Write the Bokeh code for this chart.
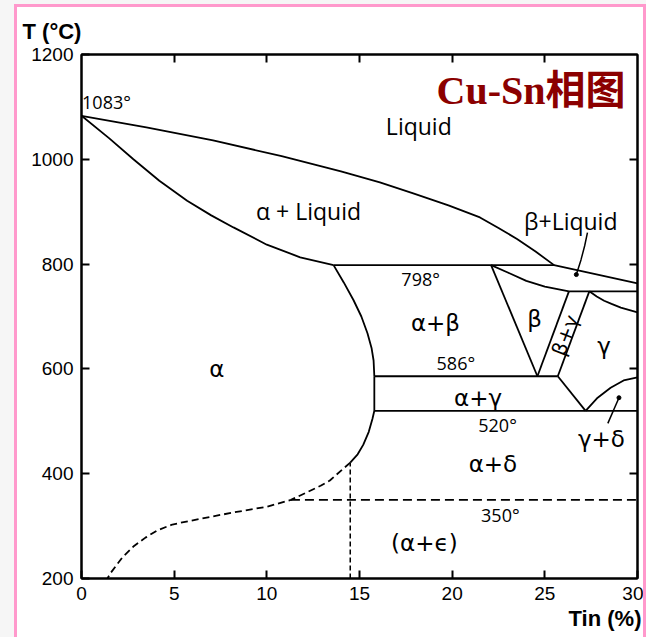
from bokeh.plotting import figure
from bokeh.layouts import column
from bokeh.models import Range1d, LinearAxis, FixedTicker, Label, Title, ColumnDataSource
from bokeh.core.properties import value
from bokeh.embed import file_html
from bokeh.resources import INLINE

# ---- Cu-Sn phase diagram, composition in wt.% Sn, temperature in °C ----
x_ticks = [0, 5, 10, 15, 20, 25, 30]
y_ticks = [200, 400, 600, 800, 1000, 1200]

# invariant temperatures
T_CU = 1083
T_798 = 798
T_755 = 748
T_586 = 586
T_520 = 520
T_350 = 350

# liquidus (continues below 798° towards the Sn side)
liquidus_sn = [0, 3.5, 7.1, 10.8, 14.0, 16.1, 17.9, 19.8, 21.5, 22.5, 23.5, 24.5, 25.5, 27.6, 30]
liquidus_t = [T_CU, 1061, 1036, 1006, 977, 956, 935, 912, 889, 869, 848, 824, T_798, 782, 763]

# alpha solidus
solidus_sn = [0, 1.5, 2.8, 4.2, 5.7, 7.0, 8.2, 10.0, 11.8, 13.6]
solidus_t = [T_CU, 1040, 1000, 959, 921, 893, 870, 837, 813, T_798]

# alpha solvus above the 586° eutectoid
solvus_hi_sn = [13.6, 14.15, 14.68, 15.1, 15.43, 15.65, 15.76, 15.8]
solvus_hi_t = [T_798, 765, 731, 700, 668, 640, 616, T_586]

# alpha solvus below 520°, solid part
solvus_lo_sn = [15.8, 15.7, 15.5, 15.2, 14.9, 14.5]
solvus_lo_t = [T_520, 505, 480, 455, 437, 421]

# alpha solvus, uncertain low-temperature part (dashed)
solvus_dash_sn = [14.5, 13.4, 12.9, 11.3, 10.0, 8.2, 6.4, 4.9, 4.1, 3.45, 2.8, 2.2, 1.56, 1.4]
solvus_dash_t = [421, 387, 377, T_350, 337, 326, 314, 303, 292, 278, 261, 240, 210, 200]

# beta field
beta_left_sn = [22.1, 24.6]
beta_left_t = [T_798, T_586]
beta_solidus_sn = [22.1, 23.0, 24.0, 25.0, 26.3]
beta_solidus_t = [T_798, 784, 768, 757, T_755]
beta_gamma_left_sn = [24.6, 26.3]
beta_gamma_left_t = [T_586, T_755]
beta_gamma_right_sn = [25.7, 27.4]
beta_gamma_right_t = [T_586, T_755]

# gamma field
gamma_lo_sn = [25.7, 27.2]
gamma_lo_t = [T_586, T_520]
gamma_delta_sn = [27.2, 27.85, 28.55, 29.25, 30]
gamma_delta_t = [T_520, 545, 564, 578, 584]
gamma_top_sn = [27.4, 27.8, 28.2, 28.6, 29.1, 30]
gamma_top_t = [T_755, 738, 730, 724, 717, 708]

# horizontal invariant lines (start, end composition)
h798 = [13.6, 25.5]
h755 = [26.3, 30]
h586 = [15.8, 25.7]
h520 = [15.8, 30]
h350 = [11.3, 30]
v_eps_sn = 14.5

# leader lines for small fields
lead_bl_sn = [27.3, 27.15, 26.95, 26.7]
lead_bl_t = [860, 835, 808, 780]
lead_gd_sn = [29.0, 28.4]
lead_gd_t = [545, 496]

# field names
word_text = ["Liquid", "α + Liquid", "β+Liquid"]
word_sn = [18.2, 12.25, 26.4]
word_t = [1064, 902, 883]

greek_text = ["α", "α+β", "β", "γ", "α+γ", "γ+δ", "α+δ", "(α+ϵ)"]
greek_sn = [7.3, 19.1, 24.45, 28.2, 21.4, 28.05, 22.2, 18.5]
greek_t = [599, 687, 696, 643, 545, 467, 419, 267]

temp_text = ["1083°", "798°", "586°", "520°", "350°"]
temp_sn = [1.35, 18.3, 20.2, 22.45, 22.6]
temp_t = [1110, 771, 612, 492, 322]

INK = "black"
PINK = "#ff99cc"
PAPER = "#f6f6f6"

p = figure(width=626, height=630, output_backend="svg", toolbar_location=None,
           x_range=Range1d(0, 30), y_range=Range1d(200, 1200),
           min_border_left=64, min_border_right=6, min_border_top=47, min_border_bottom=59,
           background_fill_color="white", border_fill_color="white")
p.grid.visible = False
p.outline_line_color = INK
p.outline_line_width = 2


def style_axis(ax, labelled):
    ax.axis_line_width = 2
    ax.axis_line_color = INK
    ax.major_tick_in = 8
    ax.major_tick_out = 0
    ax.major_tick_line_width = 2
    ax.major_tick_line_color = INK
    ax.minor_tick_line_color = None
    if labelled:
        ax.major_label_text_font = "Liberation Sans"
        ax.major_label_text_font_size = "19px"
        ax.major_label_text_color = INK
        ax.major_label_standoff = 8
    else:
        ax.major_label_text_font_size = "0px"
        ax.major_label_standoff = 0


p.xaxis.ticker = FixedTicker(ticks=x_ticks)
p.yaxis.ticker = FixedTicker(ticks=y_ticks)
style_axis(p.xaxis[0], True)
style_axis(p.yaxis[0], True)

top_ax = LinearAxis(ticker=FixedTicker(ticks=x_ticks[1:-1]))
right_ax = LinearAxis(ticker=FixedTicker(ticks=y_ticks[1:-1]))
style_axis(top_ax, False)
style_axis(right_ax, False)
p.add_layout(top_ax, "above")
p.add_layout(right_ax, "right")

# axis captions
p.title.text = "T (°C)"
p.title.align = "left"
p.title.vertical_align = "top"
p.title.offset = -59
p.title.standoff = 18
p.title.text_font = "Liberation Sans"
p.title.text_font_style = "bold"
p.title.text_font_size = "22px"
p.title.text_color = INK
p.add_layout(Title(text="Tin (%)", align="right", offset=-4, standoff=2,
                   text_font="Liberation Sans", text_font_style="bold",
                   text_font_size="22px", text_color=INK), "below")

LW = 1.8
solid = dict(line_color=INK, line_width=LW)

p.line(liquidus_sn, liquidus_t, **solid)
p.line(solidus_sn, solidus_t, **solid)
p.line(solvus_hi_sn, solvus_hi_t, **solid)
p.line([h586[0], h520[0]], [T_586, T_520], **solid)
p.line(solvus_lo_sn, solvus_lo_t, **solid)
p.line(solvus_dash_sn, solvus_dash_t, line_dash="7 4", line_color=INK, line_width=LW)
p.line(beta_left_sn, beta_left_t, **solid)
p.line(beta_solidus_sn, beta_solidus_t, **solid)
p.line(beta_gamma_left_sn, beta_gamma_left_t, **solid)
p.line(beta_gamma_right_sn, beta_gamma_right_t, **solid)
p.line(gamma_lo_sn, gamma_lo_t, **solid)
p.line(gamma_delta_sn, gamma_delta_t, **solid)
p.line(gamma_top_sn, gamma_top_t, **solid)
p.line(h798, [T_798, T_798], **solid)
p.line(h755, [T_755, T_755], **solid)
p.line(h586, [T_586, T_586], **solid)
p.line(h520, [T_520, T_520], **solid)
p.line(h350, [T_350, T_350], line_dash="9 5", line_color=INK, line_width=LW)
p.line([v_eps_sn, v_eps_sn], [200, solvus_lo_t[-1]], line_dash="5 3", line_color=INK, line_width=1.5)

p.line(lead_bl_sn, lead_bl_t, line_color=INK, line_width=1.5)
p.line(lead_gd_sn, lead_gd_t, line_color=INK, line_width=1.5)
p.scatter([lead_bl_sn[-1], lead_gd_sn[0]], [lead_bl_t[-1], lead_gd_t[0]], size=4, color=INK)

words = ColumnDataSource(dict(x=word_sn, y=word_t, text=word_text))
p.text(x="x", y="y", text="text", source=words, text_align="center", text_baseline="middle",
       text_font=value("Open Sans"), text_font_size="23px", text_color=INK)

greek = ColumnDataSource(dict(x=greek_sn, y=greek_t, text=greek_text))
p.text(x="x", y="y", text="text", source=greek, text_align="center", text_baseline="middle",
       text_font=value("DejaVu Sans"), text_font_size="23px", text_color=INK)

temps = ColumnDataSource(dict(x=temp_sn, y=temp_t, text=temp_text))
p.text(x="x", y="y", text="text", source=temps, text_align="center", text_baseline="middle",
       text_font=value("Open Sans"), text_font_size="18px", text_color=INK)

p.text(x=[26.1], y=[664], text=["β+γ"], angle=69, angle_units="deg",
       text_align="center", text_baseline="middle",
       text_font=value("DejaVu Sans"), text_font_size="20px", text_color=INK)

p.add_layout(Label(x=29.35, y=1131, text="Cu-Sn相图", text_align="right", text_baseline="middle",
                   text_font="Liberation Serif, Noto Sans CJK SC", text_font_style="bold",
                   text_font_size="40px", text_color="#8b0000"))

# white sheet with a pink rim on a grey page
sheet = column(p, styles={"border-left": f"3px solid {PINK}", "border-top": f"3px solid {PINK}",
                          "border-right": f"3px solid {PINK}", "background-color": "white"})
page = column(sheet, styles={"padding-left": "14px", "padding-top": "4px",
                             "background-color": PAPER})

open("out.html", "w").write(file_html(page, INLINE))
